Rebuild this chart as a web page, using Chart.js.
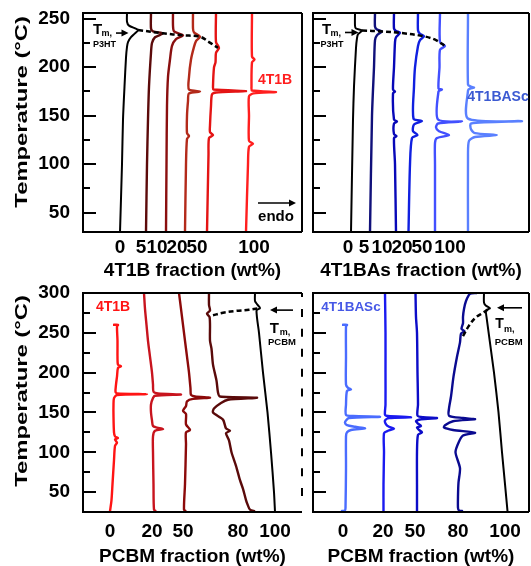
<!DOCTYPE html>
<html>
<head>
<meta charset="utf-8">
<script src="https://cdn.jsdelivr.net/npm/chart.js@4.4.1/dist/chart.umd.min.js"></script>
<style>
  html, body { margin: 0; padding: 0; background: #fff; }
  #wrap { position: relative; width: 531px; height: 566px; overflow: hidden; }
  canvas { position: absolute; }
</style>
</head>
<body>
<div id="wrap">
  <canvas id="tl" width="305" height="283" style="left:0;top:0"></canvas>
  <canvas id="tr" width="226" height="283" style="left:305px;top:0"></canvas>
  <canvas id="bl" width="305" height="285" style="left:0;top:281px"></canvas>
  <canvas id="br" width="226" height="285" style="left:305px;top:281px"></canvas>
</div>
<script>
// DSC heating traces, temperature on y, shifted heat flow (a.u.) on x
// every trace: [temperature °C, shifted heat flow]

const FONT = "'Liberation Sans', Arial, sans-serif";

const yTicksTop = [50, 75, 100, 125, 150, 175, 200, 225, 250];
const yTicksBottom = [50, 75, 100, 125, 150, 175, 200, 225, 250, 275, 300];

// --- oben links: P3HT + 4T1B
const tlLabels = ["0", "5", "10", "20", "50", "100"];
const tlTickPos = [37, 58, 74, 94, 114, 171];
const tlColors = ["#000000", "#5c0a0a", "#8a0f0f", "#b32a1a", "#e41414", "#ff1e1e"];
const tl0 = [[256,44],[247,44],[243,46],[238.5,55],[235,52],[231,48],[226,45],[221,44],[210,43],[180,41.5],[146,40],[100,39],[30,37]];
const tl5 = [[256,68],[240,68],[237,70],[235,80],[231,72],[225,69],[215,68],[180,66],[146,65],[100,64],[30,63]];
const tl10 = [[256,90],[243,90],[237,91],[233,100],[229,93],[222,89],[208,87],[190,85],[160,84],[100,83.5],[30,83]];
const tl20 = [[256,110],[240,110],[236,111],[231.5,117],[227,113],[221,111],[208,108],[190,106],[177,106],[175,117],[173,106],[165,105],[150,104],[132,104],[129,106],[126,104],[100,103],[30,102]];
const tl50 = [[256,133],[226,133],[220,136],[215,133],[205,132.5],[200,131],[180,130],[177,130.5],[175.5,163],[174,133],[172,129],[160,128],[140,127],[133,127],[130,130],[127,126],[110,125.5],[30,124]];
const tl100 = [[256,169],[211,169],[208,171.5],[205,169],[180,168.5],[176,169],[174.5,193],[173,170.5],[170,166],[150,166],[124,166],[121,170],[118,166],[100,165],[30,163]];
const tlDash = [[238.5,55],[235,80],[233,100],[231.5,117],[226,126],[220,135]];

// --- oben rechts: P3HT + 4T1BASc
const trLabels = ["0", "5", "10", "20", "50", "100"];
const trTickPos = [35, 51, 69, 89, 109, 137];
const trColors = ["#000000", "#10107a", "#0808b8", "#1020e0", "#4250ff", "#5a80ff"];
const tr0 = [[256,42],[243,42],[240,43],[238,49],[234,45],[230,44],[220,43],[180,41],[146,40],[30,38]];
const tr5 = [[256,62],[242,62],[239,64],[237,69],[233,64],[228,62],[200,61],[150,59],[30,57]];
const tr10 = [[256,81],[240,81],[237.5,83],[235.5,87],[231,83],[226,82],[200,81],[177,80],[175,82],[173,80],[146,81],[144,84],[142,81],[131,81],[129,83.5],[127,81],[100,82],[30,83]];
const tr20 = [[256,105],[238,105],[234.5,107],[232,111],[228,107],[222,105],[200,102],[180,101],[147,100.5],[144.5,109],[141,101],[134,100],[130,104.5],[127,99],[100,97],[30,95.5]];
const tr50 = [[256,127],[226,127],[222,132],[218,127],[200,126.5],[178,125.5],[177,129],[175,125.5],[146,125],[144,149],[142,125],[138,123],[134,126],[130,136],[127,124],[122,122],[100,122],[30,122]];
const tr100 = [[256,155],[182,155],[180,158],[179,161],[178,157],[176,155],[147,155],[144.5,209],[142,158],[136,158],[132,162],[130,184],[128,162],[124,156],[110,155],[30,155]];
const trDash = [[238,49],[237,69],[235.5,87],[232,111],[228,123],[222,132]];

// --- unten links: PCBM + 4T1B
const blLabels = ["0", "20", "50", "80", "100"];
const blTickPos = [27, 69, 100, 155, 192];
const blColors = ["#ff1414", "#c8141e", "#8c0a0a", "#5a0a0a", "#000000"];
const bl0 = [[260,30],[260,35],[258,34],[240,34.5],[220,34.5],[210,35],[208,38],[206,35],[195,34],[185,33],[176,32.5],[174,34],[173,64],[172,34],[168,31],[160,30.5],[145,30.5],[125,31],[120,32],[118,35],[116,32],[112,34],[108,32],[90,31],[60,29.5],[40,28.5],[26,27]];
const bl20 = [[300,61],[280,62],[260,63.5],[240,65],[220,67],[200,69],[185,70],[176,70.5],[174,75],[172.5,98],[171,72],[168,70],[160,68],[150,68],[140,69],[133,70],[131,74],[129,80],[127,72],[120,70],[100,70],[60,70.5],[28,71],[26,73]];
const bl50 = [[300,96],[280,98],[260,100],[240,102],[220,104],[200,106],[180,107.5],[172,108],[170,112],[168.5,127],[167,110],[164,104],[158,103],[152,100],[148,103],[135,103],[128,107],[125,103],[110,103],[60,102],[28,101],[26,103]];
const bl80 = [[300,126],[285,126],[278,127],[274,124],[270,126.5],[260,127],[240,127],[230,128.5],[210,130],[190,133.5],[175,135],[170,137],[168.5,174],[166,145],[162,138],[155,131],[150,130],[141,140],[130,143],[127,147],[124,143],[115,146],[100,148.5],[83,153],[65,157],[54,160],[40,163],[33,165],[28,167],[26,172]];
const bl100 = [[300,172],[290,172],[286,174],[281,177],[278,173.5],[250,176],[200,180],[150,184.5],[100,188],[50,191],[25,192]];
const blDash = [[272,130],[275.2,140],[277.5,153],[279,166],[281,176]];

// --- unten rechts: PCBM + 4T1BASc
const brLabels = ["0", "20", "50", "80", "100"];
const brTickPos = [30, 70, 102, 145, 192];
const brColors = ["#4a6cff", "#1a1af0", "#0c0cc8", "#0a0a90", "#000000"];
const br0 = [[260,29],[260,34],[258,33],[220,33],[185,33],[181,35],[179,38],[177,34],[160,33],[147,33],[145.5,40],[144.5,67],[143,36],[140,33],[137,32],[134,34],[132,42],[130,52],[128,38],[125,34],[120,33],[80,33],[30,32.5],[27,32],[26,28]];
const br20 = [[300,72],[250,72.5],[200,72.5],[160,72.5],[147,72],[145.5,75],[144,98],[143,76],[140,72],[135,73],[132,76],[129.5,81],[127,75],[124,71],[100,71],[60,70.5],[26,70.5]];
const br50 = [[300,102.5],[270,103],[250,104],[200,104.5],[160,105],[146,104.5],[144,110],[143,124],[141.5,108],[139,103],[136,105],[133,108],[131,104],[128,106],[125,109],[122,105],[100,104],[60,104],[26,104]];
const br80 = [[300,164],[299,157],[290,153],[280,151],[270,150],[262,150],[255,148.5],[252,151.5],[249,148],[238,147],[220,144],[195,140.5],[170,138],[155,136],[146,136],[143,150],[141.5,162],[139,140],[134,132],[131,131],[128,140],[124.5,162],[121,150],[112,145.5],[100,142.5],[80,147],[62,145.5],[45,145],[30,145],[27,146],[26,150]];
const br100 = [[300,171],[288,171],[284,173],[281,177],[278,173],[270,173.5],[200,181],[150,185.5],[100,189],[60,192],[26,194.5]];
const brDash = [[246,150],[258.4,155.7],[268.9,162.3],[274.3,169],[281,177]];

function curve(points, color) {
    return {
        data: points.map(p => ({ x: p[1], y: p[0] })),
        borderColor: color,
        borderWidth: color === "#000000" ? 2 : 2.4,
        pointRadius: 0,
        tension: 0.25,
        fill: false
    };
}

function dashed(points) {
    return {
        data: points.map(p => ({ x: p[1], y: p[0] })),
        borderColor: "#000",
        borderWidth: 2.5,
        borderDash: [5, 3],
        pointRadius: 0,
        tension: 0.35,
        fill: false
    };
}

// rahmen, ticks nach innen, beschriftungen
function deco(cfg) {
    return {
        id: "deco",
        afterDatasetsDraw(chart) {
            const { ctx, chartArea: a, scales: { x, y } } = chart;
            ctx.save();
            ctx.strokeStyle = "#000";
            ctx.fillStyle = "#000";
            ctx.lineWidth = 2;
            cfg.yTicks.forEach(v => {
                const py = Math.round(y.getPixelForValue(v));
                const len = v % 50 === 0 ? 13 : 7;
                ctx.beginPath();
                ctx.moveTo(a.left, py);
                ctx.lineTo(a.left + len, py);
                ctx.stroke();
            });
            ctx.beginPath();
            ctx.moveTo(a.right, a.top);
            ctx.lineTo(a.left, a.top);
            ctx.lineTo(a.left, a.bottom);
            ctx.lineTo(a.right, a.bottom);
            ctx.stroke();
            if (cfg.brokenRight) {
                cfg.yTicks.forEach(v => {
                    const py = y.getPixelForValue(v);
                    ctx.beginPath();
                    ctx.moveTo(a.right, Math.max(a.top, py - 4));
                    ctx.lineTo(a.right, py + 4);
                    ctx.stroke();
                });
            } else {
                ctx.beginPath();
                ctx.moveTo(a.right, a.top);
                ctx.lineTo(a.right, a.bottom);
                ctx.stroke();
            }

            cfg.notes.forEach(n => {
                if (n.type === "arrow") {
                    const x1 = x.getPixelForValue(n.x1), x2 = x.getPixelForValue(n.x2);
                    const py = y.getPixelForValue(n.y);
                    const dir = Math.sign(x2 - x1);
                    ctx.lineWidth = 1.6;
                    ctx.beginPath();
                    ctx.moveTo(x1, py);
                    ctx.lineTo(x2 - dir * 5, py);
                    ctx.stroke();
                    ctx.beginPath();
                    ctx.moveTo(x2, py);
                    ctx.lineTo(x2 - dir * 7, py - 3.5);
                    ctx.lineTo(x2 - dir * 7, py + 3.5);
                    ctx.closePath();
                    ctx.fill();
                } else {
                    ctx.fillStyle = n.color || "#000";
                    ctx.font = "bold " + n.size + "px " + FONT;
                    ctx.textAlign = n.align || "left";
                    ctx.textBaseline = "middle";
                    ctx.fillText(n.text, x.getPixelForValue(n.x), y.getPixelForValue(n.y));
                    ctx.fillStyle = "#000";
                }
            });

            if (cfg.yTitle) {
                ctx.translate(22, y.getPixelForValue(cfg.yTitle.at));
                ctx.rotate(-Math.PI / 2);
                ctx.scale(1.4, 1);
                ctx.font = "bold 17px " + FONT;
                ctx.textAlign = "center";
                ctx.textBaseline = "middle";
                ctx.fillStyle = "#000";
                ctx.fillText(cfg.yTitle.text, 0, 0);
            }
            ctx.restore();
        }
    };
}

function makePanel(id, cfg) {
    const datasets = cfg.series.map((s, i) => curve(s, cfg.colors[i]));
    datasets.unshift(dashed(cfg.dash));
    const tickFont = { family: FONT, size: 19, weight: "bold" };

    new Chart(document.getElementById(id), {
        type: "line",
        data: { datasets: datasets },
        options: {
            responsive: false,
            animation: false,
            layout: { padding: cfg.pad },
            plugins: { legend: { display: false }, tooltip: { enabled: false } },
            scales: {
                x: {
                    type: "linear",
                    min: 0,
                    max: cfg.xMax,
                    grid: { display: false, drawTicks: false },
                    border: { display: false },
                    afterBuildTicks: s => { s.ticks = cfg.tickPos.map(v => ({ value: v })); },
                    afterFit: s => { s.height = cfg.xHeight; },
                    ticks: {
                        autoSkip: false,
                        maxRotation: 0,
                        padding: cfg.tickPad,
                        color: "#000",
                        font: tickFont,
                        callback: (v, i) => cfg.labels[i]
                    },
                    title: {
                        display: true,
                        text: cfg.xTitle,
                        color: "#000",
                        font: { family: FONT, size: 19, weight: "bold", lineHeight: 1 },
                        padding: { top: 0, bottom: cfg.titlePad }
                    }
                },
                y: {
                    type: "linear",
                    display: cfg.showY,
                    min: cfg.yMin,
                    max: cfg.yMax,
                    // tickLength only shifts the labels (grid hidden), keeps the top padding small
                    grid: { display: false, drawTicks: true, tickLength: 13 },
                    border: { display: false },
                    afterBuildTicks: s => { s.ticks = cfg.yTicks.map(v => ({ value: v })); },
                    afterFit: s => { s.width = cfg.showY ? 83 : 0; },
                    ticks: {
                        autoSkip: false,
                        padding: 0,
                        color: "#000",
                        font: tickFont,
                        callback: v => (v % 50 === 0 ? String(v) : "")
                    }
                }
            }
        },
        plugins: [deco(cfg)]
    });
}

makePanel("tl", {
    series: [tl0, tl5, tl10, tl20, tl50, tl100], colors: tlColors, dash: tlDash,
    labels: tlLabels, tickPos: tlTickPos, xTitle: "4T1B fraction (wt%)",
    xMax: 219, yMin: 30, yMax: 256, yTicks: yTicksTop, showY: true,
    pad: { left: 0, right: 3, top: 13, bottom: 0 }, xHeight: 51, tickPad: 4, titlePad: 3,
    yTitle: { text: "Temperature (°C)", at: 154 },
    notes: [
        { x: 10, y: 238.7, text: "T", size: 15 },
        { x: 18.5, y: 234.8, text: "m,", size: 9 },
        { x: 10, y: 223, text: "P3HT", size: 9 },
        { type: "arrow", x1: 33, x2: 45.5, y: 235.3 },
        { x: 192, y: 187, text: "4T1B", size: 14, color: "#ff1e1e", align: "center" },
        { x: 193, y: 46, text: "endo", size: 15, align: "center" },
        { type: "arrow", x1: 175, x2: 213, y: 60 }
    ]
});

makePanel("tr", {
    series: [tr0, tr5, tr10, tr20, tr50, tr100], colors: trColors, dash: trDash,
    labels: trLabels, tickPos: trTickPos, xTitle: "4T1BAs fraction (wt%)",
    xMax: 216, yMin: 30, yMax: 256, yTicks: yTicksTop, showY: false,
    pad: { left: 8, right: 2, top: 13, bottom: 0 }, xHeight: 51, tickPad: 4, titlePad: 3,
    notes: [
        { x: 9, y: 238.7, text: "T", size: 15 },
        { x: 17.5, y: 234.8, text: "m,", size: 9 },
        { x: 7.5, y: 223, text: "P3HT", size: 9 },
        { type: "arrow", x1: 32, x2: 45.5, y: 235.9 },
        { x: 185, y: 169, text: "4T1BASc", size: 14, color: "#3c5ad2", align: "center" }
    ]
});

makePanel("bl", {
    series: [bl0, bl20, bl50, bl80, bl100], colors: blColors, dash: blDash,
    labels: blLabels, tickPos: blTickPos, xTitle: "PCBM fraction (wt%)",
    xMax: 219, yMin: 25, yMax: 300, yTicks: yTicksBottom, showY: true, brokenRight: true,
    pad: { left: 0, right: 3, top: 12, bottom: 0 }, xHeight: 54, tickPad: 8, titlePad: 0,
    yTitle: { text: "Temperature (°C)", at: 177 },
    notes: [
        { x: 30, y: 282.5, text: "4T1B", size: 14, color: "#ff1414", align: "center" },
        { type: "arrow", x1: 210, x2: 187, y: 278.5 },
        { x: 186.7, y: 255.3, text: "T", size: 15 },
        { x: 196.7, y: 250.5, text: "m,", size: 9 },
        { x: 185, y: 237.6, text: "PCBM", size: 9.5 }
    ]
});

makePanel("br", {
    series: [br0, br20, br50, br80, br100], colors: brColors, dash: brDash,
    labels: brLabels, tickPos: brTickPos, xTitle: "PCBM fraction (wt%)",
    xMax: 216, yMin: 25, yMax: 300, yTicks: yTicksBottom, showY: false,
    pad: { left: 8, right: 2, top: 12, bottom: 0 }, xHeight: 54, tickPad: 8, titlePad: 0,
    notes: [
        { x: 38, y: 282.5, text: "4T1BASc", size: 13.5, color: "#4658e6", align: "center" },
        { type: "arrow", x1: 209, x2: 184, y: 281.4 },
        { x: 182.3, y: 260.5, text: "T", size: 14 },
        { x: 191, y: 253.8, text: "m,", size: 9 },
        { x: 181.7, y: 238.4, text: "PCBM", size: 9.5 }
    ]
});
</script>
</body>
</html>
